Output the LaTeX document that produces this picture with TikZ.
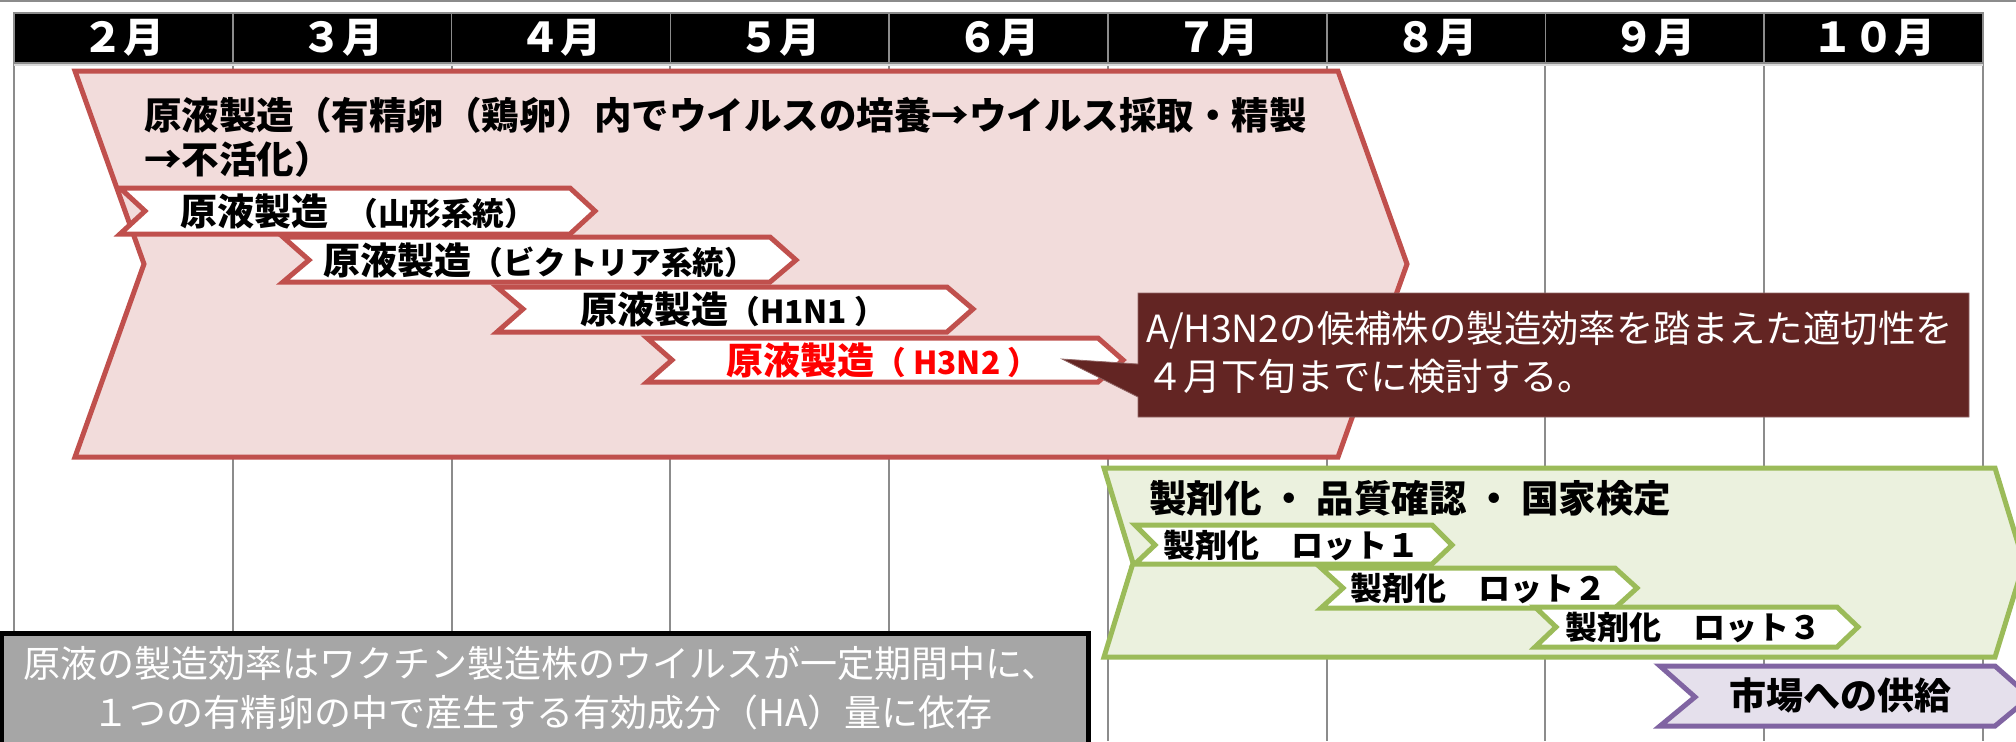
\documentclass[tikz,border=0pt]{standalone}
\usepackage{fontspec}
\setmainfont{Noto Sans CJK JP}
\definecolor{pinkfill}{HTML}{F2DCDB}
\definecolor{pinkline}{HTML}{C0504D}
\definecolor{greenfill}{HTML}{EBF1DE}
\definecolor{greenline}{HTML}{9BBB59}
\definecolor{purpfill}{HTML}{E5E0EC}
\definecolor{purpline}{HTML}{8064A2}
\definecolor{callfill}{HTML}{632523}
\definecolor{notefill}{HTML}{A6A6A6}
\definecolor{gridgray}{HTML}{8C8C8C}
\definecolor{lightgray2}{HTML}{D9D9D9}
\definecolor{redtext}{HTML}{FF0000}
\newcommand\chevshape[7]{\draw[#1] (#2,#3) -- (#4,#3) -- ({#4+#7},#6) -- (#4,#5) -- (#2,#5) -- ({#2+#7},#6) -- cycle;}
\newcommand\bigsz{\fontsize{18.5}{20}\selectfont}
\newcommand\smsz{\fontsize{15.8}{18}\selectfont}
\tikzset{
  gridline/.style={draw=gridgray, line width=1pt},
  headline/.style={draw=gridgray, line width=0.8pt},
  pinkshape/.style={fill=pinkfill, draw=pinkline, line width=2.5pt, line join=miter},
  subshape/.style={fill=white, draw=pinkline, line width=2.5pt, line join=miter},
  greenshape/.style={fill=greenfill, draw=greenline, line width=2.5pt, line join=miter},
  lotshape/.style={fill=white, draw=greenline, line width=2.5pt, line join=miter},
  purpshape/.style={fill=purpfill, draw=purpline, line width=2.5pt, line join=miter},
  callshape/.style={fill=callfill, draw=callfill!70!white, line width=0.4pt},
  notebox/.style={fill=notefill, draw=black, line width=2.5pt},
  monthtext/.style={text=white, font=\fontsize{20.5}{22}\selectfont\bfseries, inner sep=0pt},
  titletext/.style={text=black, font=\fontsize{18.75}{22}\selectfont\bfseries, inner sep=0pt, anchor=west},
  subtext/.style={text=black, font=\bfseries, inner sep=0pt, anchor=west},
  calltext/.style={text=white, font=\fontsize{18.7}{22}\selectfont, inner sep=0pt, anchor=west},
  lottext/.style={text=black, font=\fontsize{16}{18}\selectfont\bfseries, inner sep=0pt, anchor=west},
  notetext/.style={text=white, font=\fontsize{18.5}{22}\selectfont, inner sep=0pt, anchor=west},
}
\begin{document}
\begin{tikzpicture}[x=0.5pt, y=-0.5pt]
\useasboundingbox (0,0) rectangle (2016,741);
\clip (0,0) rectangle (2016,741);
\fill[white] (0,0) rectangle (2016,741);
% top rule
\draw[draw=gridgray, line width=1.3pt] (0,1) -- (2016,1);
% grid
\foreach \i in {0,...,9} \draw[gridline] ({14+218.78*\i},63) -- ({14+218.78*\i},741);
\draw[draw=lightgray2, line width=0.8pt] (14,65) -- (1983,65);
% header
\fill[black] (14,13) rectangle (1983,63);
\draw[headline] (14,13) rectangle (1983,63);
\foreach \i in {1,...,8} \draw[headline] ({14+218.78*\i},13) -- ({14+218.78*\i},63);
\foreach \i/\lab in {0/２月,1/３月,2/４月,3/５月,4/６月,5/７月,6/８月,7/９月,8/１０月}
  \node[monthtext] (m\i) at ({14+218.78*(\i+0.5)},38) {\lab};
% main production chevron
\chevshape{pinkshape}{75}{71}{1338}{457}{264}{69}
\node[titletext] (t1) at (144,115) {原液製造（有精卵（鶏卵）内でウイルスの培養→ウイルス採取・精製};
\node[titletext] (t2) at (144,159) {→不活化）};
% sub chevrons
\chevshape{subshape}{120}{188}{570}{234}{211}{25}
\node[subtext] (s1) at (180,211) {{\bigsz 原液製造}\hspace{9pt}{\smsz （山形系統）}};
\chevshape{subshape}{283}{237}{770}{282}{260}{26}
\node[subtext] (s2) at (323,260) {{\bigsz 原液製造}{\smsz （ビクトリア系統）}};
\chevshape{subshape}{497}{287}{947}{332}{309}{26}
\node[subtext] (s3) at (580,309) {{\bigsz 原液製造}{\smsz （H1N1 ）}};
\chevshape{subshape}{647}{338}{1098}{382}{360}{25}
\node[subtext, text=redtext] (s4) at (726,360) {{\bigsz 原液製造}{\smsz （ H3N2 ）}};
% callout
\draw[callshape] (1138,293) -- (1969,293) -- (1969,417) -- (1138,417) -- (1138,397) -- (1062,359) -- (1138,364) -- cycle;
\node[calltext] (c1) at (1146,330) {A/H3N2の候補株の製造効率を踏まえた適切性を};
\node[calltext] (c2) at (1146,376) {４月下旬までに検討する。};
% formulation chevron
\chevshape{greenshape}{1104}{468}{1995}{657}{563}{29}
\node[titletext] (g0) at (1149,498) {製剤化 ・ 品質確認 ・ 国家検定};
\chevshape{lotshape}{1135}{525}{1432}{564}{545}{20}
\node[lottext] (l1) at (1163,545) {製剤化　ロット１};
\chevshape{lotshape}{1321}{568}{1615}{608}{588}{22}
\node[lottext] (l2) at (1350,588) {製剤化　ロット２};
\chevshape{lotshape}{1535}{607}{1837}{647}{627}{21}
\node[lottext] (l3) at (1565,627) {製剤化　ロット３};
% market supply
\chevshape{purpshape}{1660}{666}{1995}{726}{697}{35}
\node[subtext] (p1) at (1729,695) {\bigsz 市場への供給};
% note box
\draw[notebox] (1.5,633) rectangle (1088,760);
\node[notetext] (n1) at (23,663) {原液の製造効率はワクチン製造株のウイルスが一定期間中に、};
\node[notetext] (n2) at (92,712) {１つの有精卵の中で産生する有効成分（HA）量に依存};
\end{tikzpicture}
\end{document}
